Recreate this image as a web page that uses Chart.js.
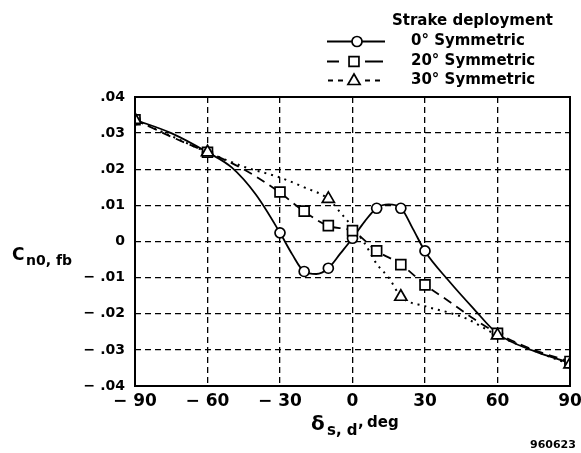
<!DOCTYPE html>
<html><head><meta charset="utf-8">
<script src="https://cdn.jsdelivr.net/npm/chart.js@4/dist/chart.umd.min.js"></script>
<style>html,body{margin:0;padding:0;background:#fff}#wrap{width:581px;height:453px;position:relative}</style>
</head><body><div id="wrap"><canvas id="c" width="581" height="453"></canvas></div>
<script>
// ---- tick labels ----
const xTicks = [-90, -60, -30, 0, 30, 60, 90];
const yTicks = [-0.04, -0.03, -0.02, -0.01, 0, 0.01, 0.02, 0.03, 0.04];
// ---- text ----
const legendTitle = 'Strake deployment';
const seriesNames = ['0\u00b0 Symmetric', '20\u00b0 Symmetric', '30\u00b0 Symmetric'];
const footNote = '960623';
// ---- measured points (markers) ----
const m0x = [-90, -60, -30, -20, -10, 0, 10, 20, 30, 60, 90];
const m0y = [0.0337, 0.0247, 0.0024, -0.0083, -0.0074, 0.0009, 0.0092, 0.0092, -0.0026, -0.0255, -0.0336];
const m20x = [-90, -60, -30, -20, -10, 0, 10, 20, 30, 60, 90];
const m20y = [0.0337, 0.0247, 0.0137, 0.0084, 0.0044, 0.0030, -0.0026, -0.0064, -0.0120, -0.0254, -0.0332];
const m30x = [-90, -60, -10, 20, 60, 90];
const m30y = [0.0337, 0.0247, 0.0118, -0.0153, -0.0260, -0.0340];
// ---- faired curves ----
const c0x = [-90, -75, -60, -50, -40, -30, -25, -20, -15, -10, -5, 0, 5, 10, 15, 20, 25, 30, 40, 50, 60, 75, 90];
const c0y = [0.0337, 0.0300, 0.0247, 0.0205, 0.0130, 0.0024, -0.0035, -0.0083, -0.0090, -0.0074, -0.0033, 0.0009, 0.0055, 0.0093, 0.0103, 0.0093, 0.0035, -0.0027, -0.0110, -0.0185, -0.0255, -0.0303, -0.0336];
const c20x = [-90, -75, -60, -50, -40, -30, -20, -10, 0, 10, 20, 30, 40, 50, 60, 75, 90];
const c20y = [0.0337, 0.0290, 0.0247, 0.0217, 0.0180, 0.0135, 0.0083, 0.0043, 0.0029, -0.0026, -0.0063, -0.0120, -0.0166, -0.0213, -0.0254, -0.0300, -0.0332];
const c30x = [-90, -75, -60, -45, -30, -20, -10, -5, 0, 5, 10, 15, 20, 30, 40, 47, 53, 60, 75, 90];
const c30y = [0.0337, 0.0292, 0.0247, 0.0207, 0.0177, 0.0150, 0.0118, 0.0080, 0.0040, -0.0005, -0.0062, -0.0100, -0.0152, -0.0179, -0.0197, -0.0213, -0.0234, -0.0260, -0.0302, -0.0340];

const FONT = "'DejaVu Sans', sans-serif";
const zip = (xs, ys) => xs.map((x, i) => ({x: x, y: ys[i]}));

function fmtY(v) {
  const n = Math.round(v * 100);
  if (n === 0) return '0';
  const s = '.0' + Math.abs(n);
  return n < 0 ? '\u2212 ' + s : s;
}
function fmtX(v) {
  const n = Math.round(v);
  if (n === 0) return '0';
  return n < 0 ? '\u2212 ' + Math.abs(n) : String(n);
}

const curveBase = {pointRadius: 0, borderColor: '#000', borderWidth: 1.8, fill: false,
  cubicInterpolationMode: 'monotone', showLine: true, order: 10};
const markerBase = {showLine: false, borderColor: '#000', backgroundColor: '#fff', pointBorderWidth: 1.7,
  pointBackgroundColor: '#fff', pointBorderColor: '#000'};

const decor = {
  id: 'decor',
  afterDraw(chart) {
    const ctx = chart.ctx, a = chart.chartArea;
    ctx.save();
    // frame
    ctx.strokeStyle = '#000'; ctx.lineWidth = 2; ctx.setLineDash([]);
    ctx.strokeRect(a.left, a.top, a.right - a.left, a.bottom - a.top);
    ctx.fillStyle = '#000';
    ctx.textAlign = 'left'; ctx.textBaseline = 'alphabetic';
    // legend
    ctx.font = 'bold 15px ' + FONT;
    ctx.fillText(legendTitle, 392, 25);
    const rows = [45, 65, 83.5];
    seriesNames.forEach((t, i) => ctx.fillText(t, 411, rows[i]));
    ctx.lineWidth = 1.8;
    ctx.beginPath(); ctx.moveTo(327, 41.5); ctx.lineTo(385, 41.5); ctx.stroke();
    ctx.beginPath(); ctx.moveTo(327, 61.5); ctx.lineTo(339, 61.5); ctx.moveTo(365, 61.5); ctx.lineTo(383, 61.5); ctx.stroke();
    ctx.setLineDash([5, 5]);
    ctx.beginPath(); ctx.moveTo(328, 80.5); ctx.lineTo(345, 80.5); ctx.stroke();
    ctx.beginPath(); ctx.moveTo(365, 80.5); ctx.lineTo(384, 80.5); ctx.stroke();
    ctx.setLineDash([]);
    ctx.fillStyle = '#fff'; ctx.strokeStyle = '#000'; ctx.lineWidth = 1.7;
    Chart.helpers.drawPoint(ctx, {pointStyle: 'circle', radius: 5, borderWidth: 1.7}, 357, 41.5);
    Chart.helpers.drawPoint(ctx, {pointStyle: 'rect', radius: 7, borderWidth: 1.7}, 354, 61.5);
    Chart.helpers.drawPoint(ctx, {pointStyle: 'triangle', radius: 7, borderWidth: 1.7}, 354, 81);
    // y axis title
    ctx.fillStyle = '#000';
    ctx.font = 'bold 17px ' + FONT;
    ctx.fillText('C', 12, 260);
    ctx.font = 'bold 14px ' + FONT;
    ctx.fillText('n0, fb', 26, 265);
    // x axis title
    ctx.font = 'bold 20px ' + FONT;
    ctx.fillText('\u03b4', 311, 430);
    ctx.font = 'bold 15px ' + FONT;
    ctx.fillText('s, d', 327, 435);
    ctx.fillText(',', 358, 427);
    ctx.fillText('deg', 367, 427);
    // footnote
    ctx.font = 'bold 11px ' + FONT;
    ctx.fillText(footNote, 530, 448);
    ctx.restore();
  }
};

new Chart(document.getElementById('c'), {
  type: 'scatter',
  data: {
    datasets: [
      Object.assign({}, curveBase, {label: 'c0', data: zip(c0x, c0y)}),
      Object.assign({}, curveBase, {label: 'c20', data: zip(c20x, c20y), borderDash: [9, 6]}),
      Object.assign({}, curveBase, {label: 'c30', data: zip(c30x, c30y), borderDash: [2, 5], borderWidth: 2}),
      Object.assign({}, markerBase, {label: seriesNames[0], data: zip(m0x, m0y), pointStyle: 'circle', pointRadius: 5, order: 3}),
      Object.assign({}, markerBase, {label: seriesNames[1], data: zip(m20x, m20y), pointStyle: 'rect', pointRadius: 7, order: 2}),
      Object.assign({}, markerBase, {label: seriesNames[2], data: zip(m30x, m30y), pointStyle: 'triangle', pointRadius: 7, order: 1})
    ]
  },
  options: {
    responsive: false, animation: false, devicePixelRatio: 1,
    layout: {padding: {left: 0, right: 11, top: 97, bottom: 0}},
    plugins: {legend: {display: false}, tooltip: {enabled: false}},
    scales: {
      x: {
        type: 'linear', min: -90, max: 90,
        afterBuildTicks: s => { s.ticks = xTicks.map(v => ({value: v})); },
        afterFit: s => { s.height = 67; s.paddingRight = 0; s.paddingLeft = 0; },
        grid: {color: '#000', lineWidth: 1.3, drawTicks: false},
        border: {display: false, dash: [6, 4]},
        ticks: {padding: 5, color: '#000', font: {family: FONT, weight: 'bold', size: 17}, callback: v => fmtX(v), maxRotation: 0}
      },
      y: {
        type: 'linear', min: -0.04, max: 0.04,
        afterBuildTicks: s => { s.ticks = yTicks.map(v => ({value: v})); },
        afterFit: s => { s.width = 135; s.paddingTop = 0; s.paddingBottom = 0; },
        grid: {color: '#000', lineWidth: 1.3, drawTicks: false},
        border: {display: false, dash: [6, 4]},
        ticks: {padding: 10, color: '#000', font: {family: FONT, weight: 'bold', size: 14}, callback: v => fmtY(v)}
      }
    }
  },
  plugins: [decor]
});
</script>
</body></html>
